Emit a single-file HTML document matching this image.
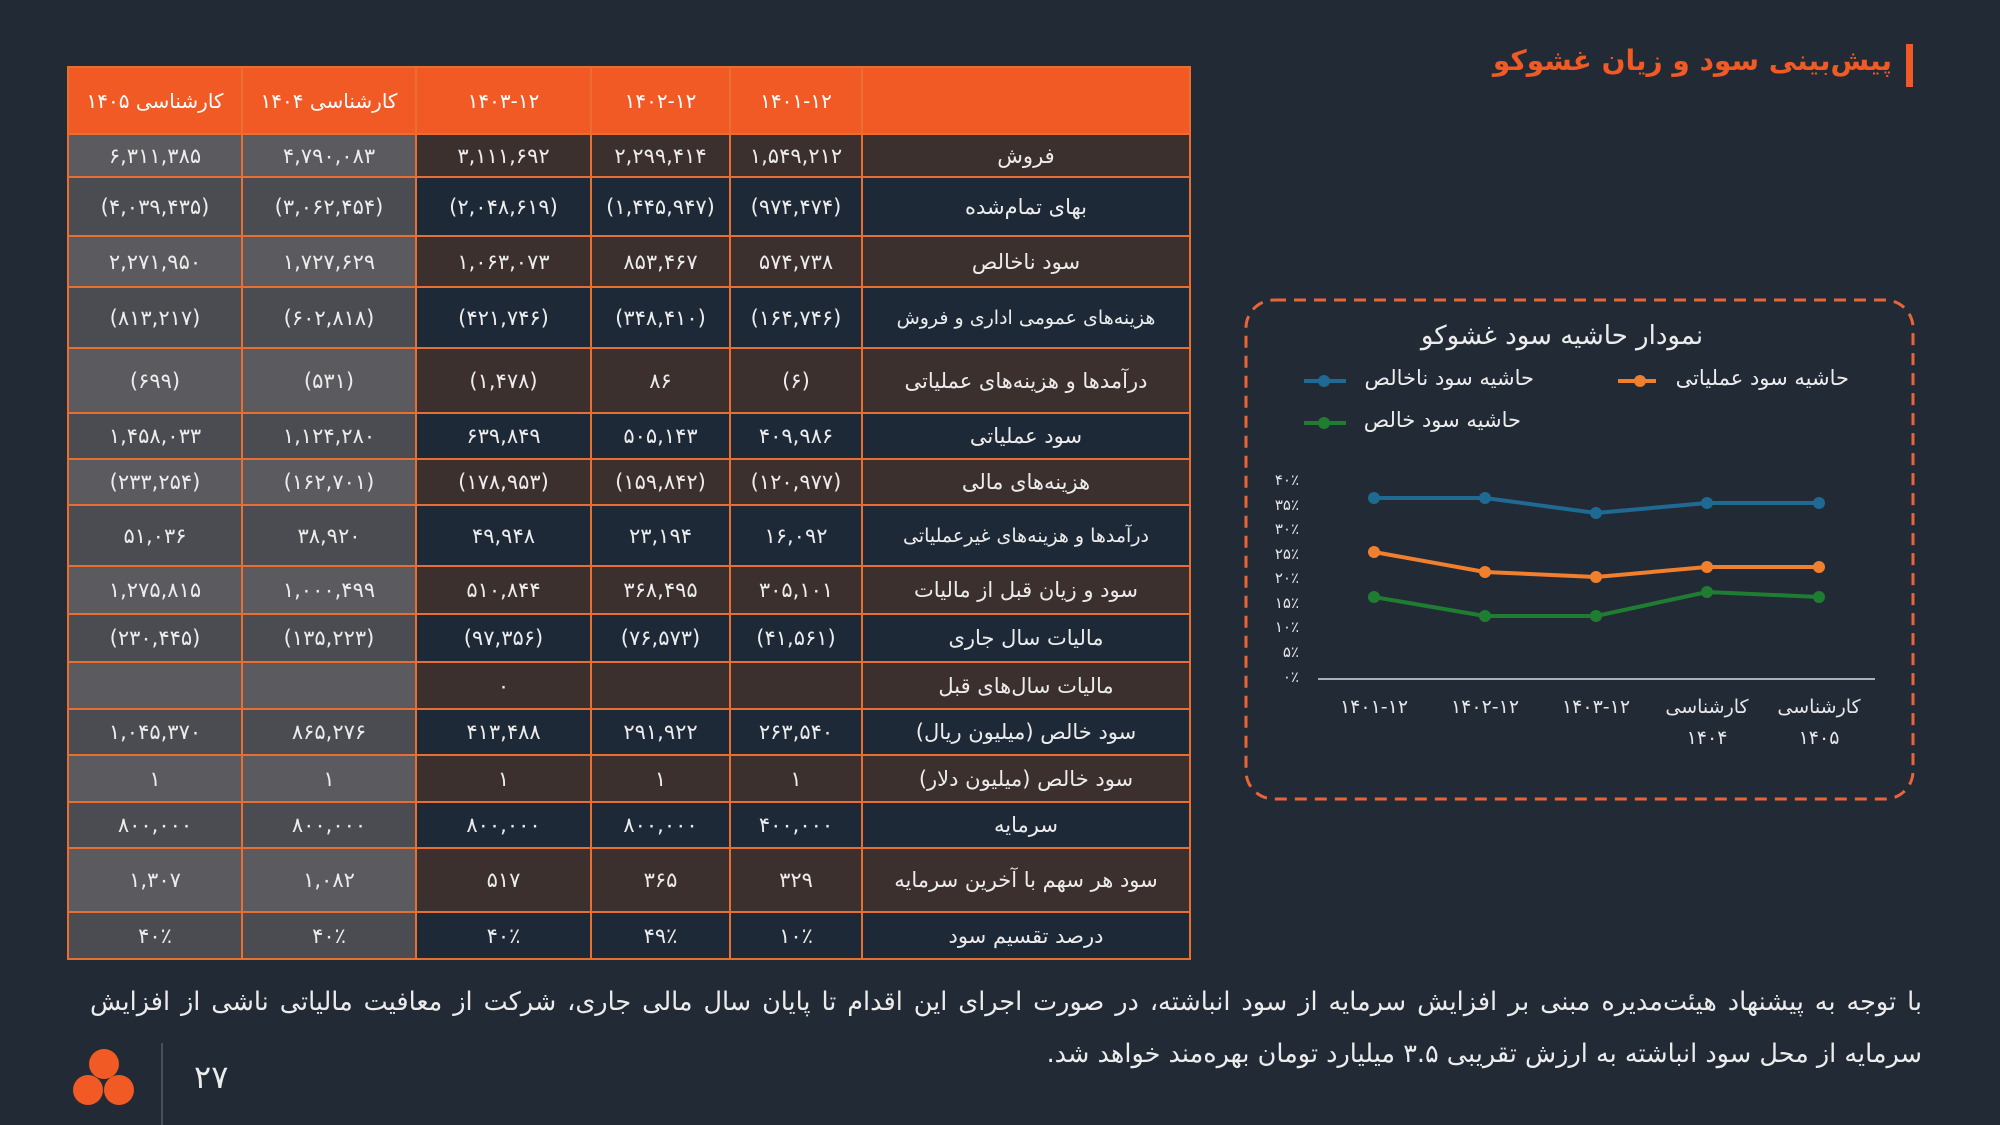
<!DOCTYPE html>
<html><head><meta charset="utf-8"><style>
body{margin:0;width:2000px;height:1125px;background:#222a35;overflow:hidden;font-family:"DejaVu Sans",sans-serif;color:#ececec;position:relative}
table{position:absolute;left:67px;top:66px;border-collapse:collapse;table-layout:fixed;direction:ltr}
td{border:2px solid #e86f32;text-align:center;font-size:21px;padding:0;white-space:nowrap;overflow:hidden}
tr.h td{background:#f15a24;color:#fff;font-size:20px}
tr.b td{background:#3b302e}
tr.n td{background:#1e2938}
tr.b td.g{background:#5b5b5f}
tr.n td.g{background:#4b4c51}
td.l{direction:rtl;font-size:21px}
.t{position:absolute;direction:rtl;white-space:nowrap}
.c{position:absolute;width:160px;text-align:center;font-size:19px;line-height:31px;color:#e6e6e6}
.y{position:absolute;width:60px;text-align:right;font-size:15px;color:#e6e6e6}
</style></head><body>
<div style="position:absolute;left:1906px;top:44px;width:7px;height:43px;background:#f15a24"></div>
<div class="t" style="right:108px;top:44px;color:#f15a24;font-size:28px;font-weight:bold">پیش‌بینی سود و زیان غشوکو</div>
<table>
<colgroup><col style="width:174px"><col style="width:174px"><col style="width:175px"><col style="width:139px"><col style="width:132px"><col style="width:328px"></colgroup>
<tr class="h" style="height:67px"><td>کارشناسی ۱۴۰۵</td><td>کارشناسی ۱۴۰۴</td><td>۱۴۰۳-۱۲</td><td>۱۴۰۲-۱۲</td><td>۱۴۰۱-۱۲</td><td></td></tr>
<tr class="b" style="height:43px"><td class="g">۶,۳۱۱,۳۸۵</td><td class="g">۴,۷۹۰,۰۸۳</td><td>۳,۱۱۱,۶۹۲</td><td>۲,۲۹۹,۴۱۴</td><td>۱,۵۴۹,۲۱۲</td><td class="l">فروش</td></tr>
<tr class="n" style="height:59px"><td class="g">(۴,۰۳۹,۴۳۵)</td><td class="g">(۳,۰۶۲,۴۵۴)</td><td>(۲,۰۴۸,۶۱۹)</td><td>(۱,۴۴۵,۹۴۷)</td><td>(۹۷۴,۴۷۴)</td><td class="l">بهای تمام‌شده</td></tr>
<tr class="b" style="height:51px"><td class="g">۲,۲۷۱,۹۵۰</td><td class="g">۱,۷۲۷,۶۲۹</td><td>۱,۰۶۳,۰۷۳</td><td>۸۵۳,۴۶۷</td><td>۵۷۴,۷۳۸</td><td class="l">سود ناخالص</td></tr>
<tr class="n" style="height:61px"><td class="g">(۸۱۳,۲۱۷)</td><td class="g">(۶۰۲,۸۱۸)</td><td>(۴۲۱,۷۴۶)</td><td>(۳۴۸,۴۱۰)</td><td>(۱۶۴,۷۴۶)</td><td class="l" style="font-size:19px">هزینه‌های عمومی اداری و فروش</td></tr>
<tr class="b" style="height:65px"><td class="g">(۶۹۹)</td><td class="g">(۵۳۱)</td><td>(۱,۴۷۸)</td><td>۸۶</td><td>(۶)</td><td class="l">درآمدها و هزینه‌های عملیاتی</td></tr>
<tr class="n" style="height:46px"><td class="g">۱,۴۵۸,۰۳۳</td><td class="g">۱,۱۲۴,۲۸۰</td><td>۶۳۹,۸۴۹</td><td>۵۰۵,۱۴۳</td><td>۴۰۹,۹۸۶</td><td class="l">سود عملیاتی</td></tr>
<tr class="b" style="height:46px"><td class="g">(۲۳۳,۲۵۴)</td><td class="g">(۱۶۲,۷۰۱)</td><td>(۱۷۸,۹۵۳)</td><td>(۱۵۹,۸۴۲)</td><td>(۱۲۰,۹۷۷)</td><td class="l">هزینه‌های مالی</td></tr>
<tr class="n" style="height:61px"><td class="g">۵۱,۰۳۶</td><td class="g">۳۸,۹۲۰</td><td>۴۹,۹۴۸</td><td>۲۳,۱۹۴</td><td>۱۶,۰۹۲</td><td class="l" style="font-size:19px">درآمدها و هزینه‌های غیرعملیاتی</td></tr>
<tr class="b" style="height:48px"><td class="g">۱,۲۷۵,۸۱۵</td><td class="g">۱,۰۰۰,۴۹۹</td><td>۵۱۰,۸۴۴</td><td>۳۶۸,۴۹۵</td><td>۳۰۵,۱۰۱</td><td class="l">سود و زیان قبل از مالیات</td></tr>
<tr class="n" style="height:48px"><td class="g">(۲۳۰,۴۴۵)</td><td class="g">(۱۳۵,۲۲۳)</td><td>(۹۷,۳۵۶)</td><td>(۷۶,۵۷۳)</td><td>(۴۱,۵۶۱)</td><td class="l">مالیات سال جاری</td></tr>
<tr class="b" style="height:47px"><td class="g"></td><td class="g"></td><td>۰</td><td></td><td></td><td class="l">مالیات سال‌های قبل</td></tr>
<tr class="n" style="height:46px"><td class="g">۱,۰۴۵,۳۷۰</td><td class="g">۸۶۵,۲۷۶</td><td>۴۱۳,۴۸۸</td><td>۲۹۱,۹۲۲</td><td>۲۶۳,۵۴۰</td><td class="l">سود خالص (میلیون ریال)</td></tr>
<tr class="b" style="height:47px"><td class="g">۱</td><td class="g">۱</td><td>۱</td><td>۱</td><td>۱</td><td class="l">سود خالص (میلیون دلار)</td></tr>
<tr class="n" style="height:46px"><td class="g">۸۰۰,۰۰۰</td><td class="g">۸۰۰,۰۰۰</td><td>۸۰۰,۰۰۰</td><td>۸۰۰,۰۰۰</td><td>۴۰۰,۰۰۰</td><td class="l">سرمایه</td></tr>
<tr class="b" style="height:64px"><td class="g">۱,۳۰۷</td><td class="g">۱,۰۸۲</td><td>۵۱۷</td><td>۳۶۵</td><td>۳۲۹</td><td class="l">سود هر سهم با آخرین سرمایه</td></tr>
<tr class="n" style="height:47px"><td class="g">۴۰٪</td><td class="g">۴۰٪</td><td>۴۰٪</td><td>۴۹٪</td><td>۱۰٪</td><td class="l">درصد تقسیم سود</td></tr>
</table>

<svg style="position:absolute;left:0;top:0" width="2000" height="1125">
<rect x="1246" y="300" width="667" height="499" rx="28" fill="none" stroke="#e8653a" stroke-width="3" stroke-dasharray="12,8"/>
<line x1="1318" y1="679" x2="1875" y2="679" stroke="#ddd" stroke-width="1.5"/>
<g fill="none" stroke-width="4" stroke-linejoin="round">
<polyline stroke="#1e6a93" points="1374,498 1485,498 1596,513 1707,503 1819,503"/>
<polyline stroke="#f07f2e" points="1374,552 1485,572 1596,577 1707,567 1819,567"/>
<polyline stroke="#1f7d32" points="1374,597 1485,616 1596,616 1707,592 1819,597"/>
</g>
<g fill="#1e6a93"><circle cx="1374" cy="498" r="6"/><circle cx="1485" cy="498" r="6"/><circle cx="1596" cy="513" r="6"/><circle cx="1707" cy="503" r="6"/><circle cx="1819" cy="503" r="6"/></g>
<g fill="#f07f2e"><circle cx="1374" cy="552" r="6"/><circle cx="1485" cy="572" r="6"/><circle cx="1596" cy="577" r="6"/><circle cx="1707" cy="567" r="6"/><circle cx="1819" cy="567" r="6"/></g>
<g fill="#1f7d32"><circle cx="1374" cy="597" r="6"/><circle cx="1485" cy="616" r="6"/><circle cx="1596" cy="616" r="6"/><circle cx="1707" cy="592" r="6"/><circle cx="1819" cy="597" r="6"/></g>
<line x1="1618" y1="381" x2="1656" y2="381" stroke="#f07f2e" stroke-width="4"/><circle cx="1640" cy="381" r="6" fill="#f07f2e"/>
<line x1="1304" y1="381" x2="1346" y2="381" stroke="#1e6a93" stroke-width="4"/><circle cx="1324" cy="381" r="6" fill="#1e6a93"/>
<line x1="1304" y1="423" x2="1346" y2="423" stroke="#1f7d32" stroke-width="4"/><circle cx="1324" cy="423" r="6" fill="#1f7d32"/>
<line x1="162" y1="1043" x2="162" y2="1125" stroke="#555c66" stroke-width="1.5"/>
<g fill="#f15a24"><circle cx="104" cy="1064" r="15"/><circle cx="88" cy="1090" r="15"/><circle cx="119" cy="1090" r="15"/></g>
</svg>
<div class="t" style="left:1392px;width:340px;text-align:center;top:321px;font-size:26px">نمودار حاشیه سود غشوکو</div>
<div class="t" style="right:151px;top:366px;font-size:21px">حاشیه سود عملیاتی</div>
<div class="t" style="right:466px;top:366px;font-size:21px">حاشیه سود ناخالص</div>
<div class="t" style="right:479px;top:408px;font-size:21px">حاشیه سود خالص</div>
<div class="y" style="left:1239px;top:471px">۴۰٪</div>
<div class="y" style="left:1239px;top:496px">۳۵٪</div>
<div class="y" style="left:1239px;top:520px">۳۰٪</div>
<div class="y" style="left:1239px;top:545px">۲۵٪</div>
<div class="y" style="left:1239px;top:569px">۲۰٪</div>
<div class="y" style="left:1239px;top:594px">۱۵٪</div>
<div class="y" style="left:1239px;top:618px">۱۰٪</div>
<div class="y" style="left:1239px;top:643px">۵٪</div>
<div class="y" style="left:1239px;top:668px">۰٪</div>
<div class="c" style="left:1294px;top:692px">۱۴۰۱-۱۲</div>
<div class="c" style="left:1405px;top:692px">۱۴۰۲-۱۲</div>
<div class="c" style="left:1516px;top:692px">۱۴۰۳-۱۲</div>
<div class="c" style="left:1627px;top:692px">کارشناسی<br>۱۴۰۴</div>
<div class="c" style="left:1739px;top:692px">کارشناسی<br>۱۴۰۵</div>
<div class="t" style="left:194px;top:1058px;font-size:32px;direction:ltr">۲۷</div>
<div class="t" style="left:90px;right:78px;top:976px;font-size:25.5px;line-height:52px;white-space:normal;text-align:justify;text-align-last:right">با توجه به پیشنهاد هیئت‌مدیره مبنی بر افزایش سرمایه از سود انباشته، در صورت اجرای این اقدام تا پایان سال مالی جاری، شرکت از معافیت مالیاتی ناشی از افزایش سرمایه از محل سود انباشته به ارزش تقریبی ۳.۵ میلیارد تومان بهره‌مند خواهد شد.</div>
</body></html>
